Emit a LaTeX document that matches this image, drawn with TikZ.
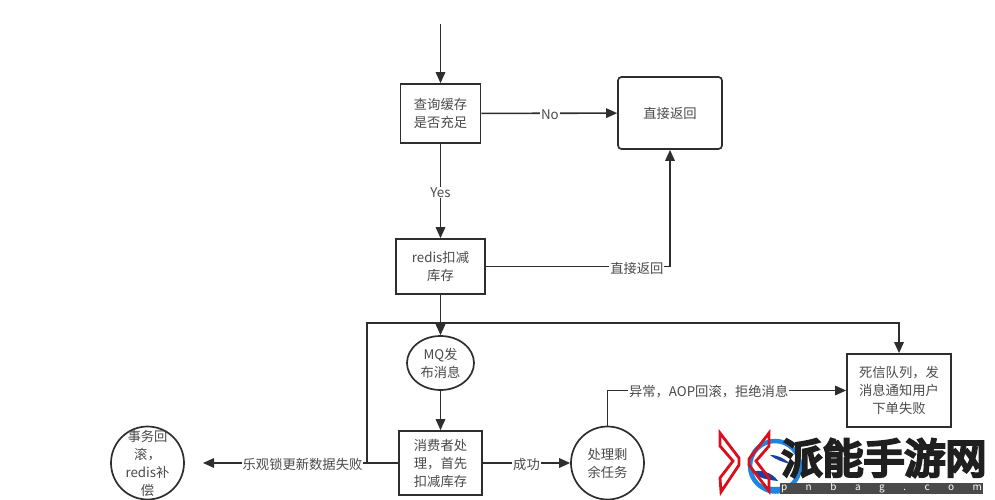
\documentclass[tikz,border=0pt]{standalone}
\usepackage{fontspec}
\setmainfont{Noto Sans CJK SC}
\newfontfamily\wmfont[FakeBold=7]{Noto Sans CJK SC}
\usepackage{tikz}
\usetikzlibrary{arrows.meta,shapes.geometric}

\definecolor{inkline}{HTML}{2E2E2E}
\definecolor{inktext}{HTML}{4A4A4A}
\definecolor{wmred}{HTML}{D8101E}
\definecolor{wmblue}{HTML}{1E86E0}
\definecolor{wmnavy}{HTML}{1C3E9C}
\definecolor{wmbar}{HTML}{4A4A4A}

\tikzset{
  flow/.style={draw=inkline, line width=1.6pt, -{Triangle[length=11pt,width=9.5pt]}},
  stepbox/.style={draw=inkline, line width=1.7pt, fill=white, text=inktext, align=center, font=\fontsize{13.3pt}{18pt}\selectfont, inner sep=0pt},
  roundbox/.style={stepbox, rounded corners=3.5pt},
  stepround/.style={stepbox, ellipse},
  stepcircle/.style={stepbox, circle, minimum size=73pt},
  taglabel/.style={fill=white, text=inktext, font=\fontsize{13.3pt}{16pt}\selectfont, inner sep=1pt, yshift=-1.5pt},
}

\begin{document}
\begin{tikzpicture}[x=1pt,y=-1pt]
    \useasboundingbox (0,0) rectangle (995,500);

    \node[stepbox, minimum width=80pt, minimum height=59pt] (query) at (440.5,113.5) {查询缓存\\是否充足};
    \node[roundbox, minimum width=104pt, minimum height=72pt] (back) at (670,113) {直接返回};
    \node[stepbox, minimum width=89pt, minimum height=55pt] (redis) at (440.5,266.5) {redis扣减\\库存};
    \node[stepround, minimum width=67pt, minimum height=54pt] (mq) at (440.5,363) {MQ发\\布消息};
    \node[stepbox, minimum width=83pt, minimum height=64pt] (consumer) at (440.5,463) {消费者处\\理，首先\\扣减库存};
    \node[stepcircle, label={[text=inktext, align=center, font=\fontsize{13.3pt}{18pt}\selectfont]center:事务回\\滚，\\redis补\\偿}] (undo) at (147.5,463) {};
    \node[stepcircle] (rest) at (607.5,463) {处理剩\\余任务};
    \node[stepbox, minimum width=104pt, minimum height=73pt] (dead) at (899,390.5) {死信队列，发\\消息通知用户\\下单失败};

    \coordinate (start) at (440.5,24);
    \coordinate (undotip) at (203,463);
    \coordinate (split) at (367,463);
    \coordinate (top) at (367,323);

    \draw[flow] (start) -- (query);
    \draw[flow] (query) -- node[taglabel, pos=0.505] {No} (back);
    \draw[flow] (query) -- node[taglabel, pos=0.5] {Yes} (redis);
    \draw[flow] (redis.east) -- node[taglabel, pos=0.82] {直接返回} (back.south |- redis.east) -- (back.south);
    \draw[flow] (redis) -- (mq);
    \draw[flow] (mq) -- (consumer);
    \draw[flow] (consumer) -- node[taglabel, pos=0.49] {乐观锁更新数据失败} (undotip);
    \draw[flow] (split) -- (top) -- (top -| dead.north) -- (dead.north);
    \draw[flow] (consumer) -- node[taglabel, pos=0.5] {成功} (rest);
    \draw[flow] (rest.north) -- (rest.north |- dead.west) -- node[taglabel, pos=0.424] {异常，AOP回滚，拒绝消息} (dead.west);

    % site mark, bottom right
    \draw[wmblue, line width=4.5pt] (775,466) circle (25pt);
    \fill[wmblue] (755,481) .. controls (765,489) and (785,489) .. (797,481) .. controls (787,498) and (763,498) .. (755,481);
    \fill[wmnavy] (752,472) .. controls (760,469) and (772,472) .. (778,481) .. controls (768,480) and (758,478) .. (752,472);
    \fill[wmnavy] (770,455) .. controls (778,455) and (784,458) .. (790,464) .. controls (783,462) and (776,460) .. (770,455);
    \draw[wmred, line width=2.8pt, line join=miter] (720,433) -- (739,458) -- (739,465) -- (721,492) -- (720,478) -- (733,461) -- (720,446) -- cycle;
    \draw[wmred, line width=2.8pt, line join=miter] (769,433) -- (749,459) -- (749,465) -- (769,491) -- (769,478) -- (756,461) -- (769,446) -- cycle;
    \node[text=black!88, inner sep=0pt, font=\wmfont\fontsize{41pt}{41pt}\selectfont] (wmtitle) at (884,458) {派能手游网};
    \node[fill=wmbar, text=white, inner sep=0pt, minimum width=203pt, minimum height=11pt, font=\fontsize{10pt}{10pt}\selectfont] (wmbar) at (881.5,488) {p\hspace{18.5pt}n\hspace{18.5pt}b\hspace{18.5pt}a\hspace{18.5pt}g\hspace{18.5pt}.\hspace{18.5pt}c\hspace{18.5pt}o\hspace{18.5pt}m};
\end{tikzpicture}
\end{document}
